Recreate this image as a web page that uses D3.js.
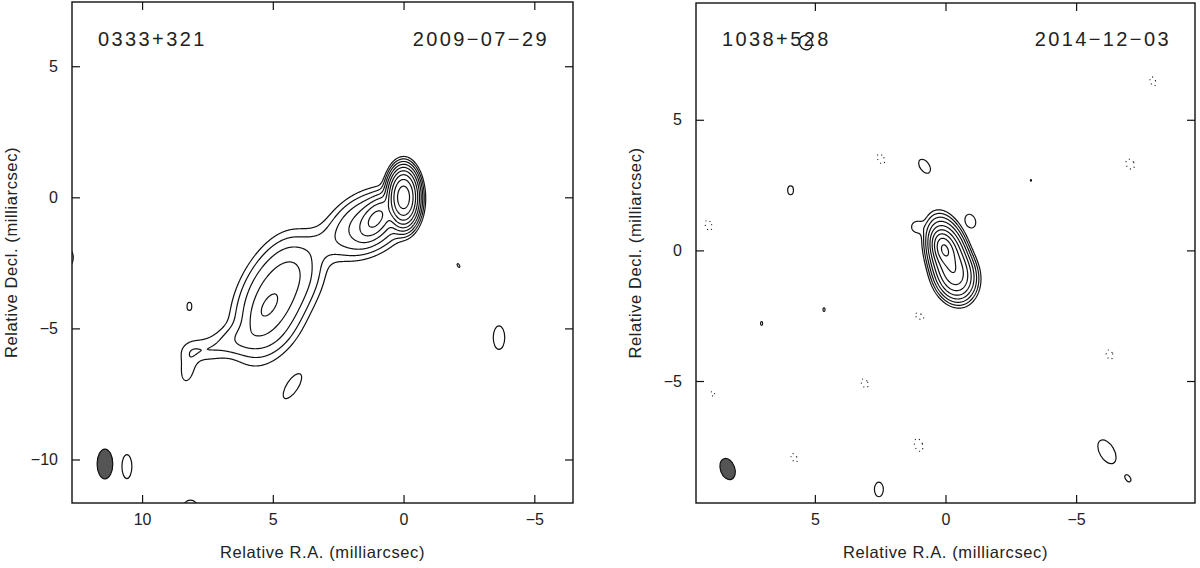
<!DOCTYPE html>
<html>
<head>
<meta charset="utf-8">
<script src="https://cdn.jsdelivr.net/npm/d3@7"></script>
<style>
body { margin: 0; background: #fff; }
text { font-family: "Liberation Sans", Arial, sans-serif; fill: #222; }
</style>
</head>
<body>
<svg id="chart" width="1200" height="568"></svg>
<script>
// contour levels, in units of the lowest contour
const levels = [1, 2, 4, 8, 16, 32, 64, 128, 256];

// 0333+321 (2009-07-29): brightness components [ra, dec, peak, sigmaMaj, sigmaMin, pa]  (mas, deg)
const jetComponents = [
    [0.0, 0.0, 400, 0.45, 0.24, 0],
    [1.05, -0.8, 30, 0.45, 0.25, 145],
    [1.35, -1.0, 12, 0.85, 0.55, 120],
    [2.75, -1.65, 0.6, 0.45, 0.45, 0],
    [3.25, -1.85, 0.8, 0.4, 0.4, 0],
    [4.1, -2.75, 3.8, 0.75, 0.6, 165],
    [5.0, -3.95, 13, 1.15, 0.65, 158],
    [5.25, -4.25, 6, 0.5, 0.25, 147],
    [6.2, -5.4, 2.5, 0.8, 0.35, 100],
    [7.7, -5.85, 1.5, 0.6, 0.3, 90],
    [8.25, -6.5, 1.5, 0.55, 0.25, 170]
];
// isolated lowest-level islands [ra, dec, halfMaj, halfMin, pa]
const jetIslands = [
    [8.19, -4.16, 0.15, 0.09, 0],
    [4.25, -7.2, 0.55, 0.22, 147],
    [-3.65, -5.35, 0.45, 0.22, 0],
    [10.58, -10.27, 0.46, 0.19, 0],
    [8.15, -11.85, 0.3, 0.28, 0],
    [12.85, -2.3, 0.35, 0.22, 0],
    [-2.1, -2.6, 0.08, 0.04, 30]
];
const jetNegIslands = [];
// restoring beam [ra, dec, major, minor, pa]
const jetBeam = [11.42, -10.17, 1.14, 0.6, 0];

// 1038+528 (2014-12-03)
const coreComponents = [
    [0.05, 0.05, 200, 0.3, 0.18, 18],
    [-0.12, -0.25, 120, 0.6, 0.3, 16],
    [-0.38, -0.95, 60, 0.42, 0.33, 15],
    [1.1, 0.9, 1.6, 0.2, 0.2, 0]
];
const coreIslands = [
    [-0.95, 1.12, 0.27, 0.2, 20],
    [5.35, 7.95, 0.28, 0.24, 30],
    [0.8, 3.22, 0.3, 0.18, 35],
    [5.93, 2.3, 0.17, 0.11, 0],
    [-6.18, -7.71, 0.5, 0.28, 30],
    [-6.98, -8.72, 0.15, 0.09, 35],
    [2.55, -9.15, 0.28, 0.17, 0],
    [4.65, -2.27, 0.07, 0.04, 0],
    [7.04, -2.8, 0.07, 0.04, 0],
    [-3.27, 2.68, 0.03, 0.02, 0]
];
const coreNegIslands = [
    [2.47, 3.5, 0.2, 0.12, 30],
    [-7.94, 6.47, 0.18, 0.1, 20],
    [-7.07, 3.3, 0.2, 0.15, 30],
    [9.07, 0.96, 0.2, 0.12, 20],
    [1.0, -2.52, 0.18, 0.1, 60],
    [-6.28, -3.99, 0.18, 0.12, 20],
    [3.09, -5.09, 0.18, 0.12, 30],
    [8.9, -5.5, 0.1, 0.06, 30],
    [1.03, -7.45, 0.25, 0.15, 20],
    [5.79, -7.94, 0.18, 0.1, 30]
];
const coreBeam = [8.34, -8.37, 0.84, 0.55, 20];

const panels = [
    {id: 'jet', name: '0333+321', date: '2009\u221207\u221229', xDomain: [12.68, -6.48], yDomain: [-11.66, 7.45],
     left: 72, right: 573, top: 2, bottom: 503,
     comps: jetComponents, islands: jetIslands, neg: jetNegIslands, beam: jetBeam},
    {id: 'core', name: '1038+528', date: '2014\u221212\u221203', xDomain: [9.55, -9.55], yDomain: [-9.67, 9.47],
     left: 696, right: 1195, top: 3, bottom: 503,
     comps: coreComponents, islands: coreIslands, neg: coreNegIslands, beam: coreBeam}
];

const svg = d3.select('#chart');
const res = 2; // grid samples per pixel

panels.forEach(p => {
    const x = d3.scaleLinear().domain(p.xDomain).range([p.left, p.right]);
    const y = d3.scaleLinear().domain(p.yDomain).range([p.bottom, p.top]);
    const pxPerMas = Math.abs(x(1) - x(0));
    const W = p.right - p.left, H = p.bottom - p.top;

    svg.append('clipPath').attr('id', 'clip-' + p.id)
        .append('rect').attr('x', p.left).attr('y', p.top).attr('width', W).attr('height', H);

    // brightness grid
    const nx = W * res, ny = H * res;
    const values = new Float64Array(nx * ny);
    const raAt = d3.range(nx).map(i => x.invert(p.left + (i + 0.5) / res));
    const decAt = d3.range(ny).map(j => y.invert(p.top + (j + 0.5) / res));
    p.comps.forEach(([ra0, dec0, amp, sa, sb, pa]) => {
        const r = pa * Math.PI / 180, s = Math.sin(r), c = Math.cos(r);
        const reach = sa * 5;
        const i0 = Math.max(0, Math.floor((x(ra0 + reach) - p.left) * res));
        const i1 = Math.min(nx - 1, Math.ceil((x(ra0 - reach) - p.left) * res));
        const j0 = Math.max(0, Math.floor((y(dec0 + reach) - p.top) * res));
        const j1 = Math.min(ny - 1, Math.ceil((y(dec0 - reach) - p.top) * res));
        for (let j = j0; j <= j1; j++) {
            const dd = decAt[j] - dec0;
            for (let i = i0; i <= i1; i++) {
                const dr = raAt[i] - ra0;
                const u = dr * s + dd * c, v = dr * c - dd * s;
                values[j * nx + i] += amp * Math.exp(-0.5 * (u * u / (sa * sa) + v * v / (sb * sb)));
            }
        }
    });

    const contours = d3.contours().size([nx, ny]).thresholds(levels)(values);
    const path = d3.geoPath(d3.geoIdentity().scale(1 / res).translate([p.left, p.top]));

    const plot = svg.append('g').attr('clip-path', 'url(#clip-' + p.id + ')');
    plot.selectAll('path.level')
        .data(contours)
        .join('path')
        .attr('class', 'level')
        .attr('d', path)
        .attr('fill', 'none')
        .attr('stroke', '#111')
        .attr('stroke-width', 1.2);

    const ellipse = (sel) => sel
        .attr('cx', d => x(d[0]))
        .attr('cy', d => y(d[1]))
        .attr('rx', d => d[3] * pxPerMas)
        .attr('ry', d => d[2] * pxPerMas)
        .attr('transform', d => 'rotate(' + (-d[4]) + ',' + x(d[0]) + ',' + y(d[1]) + ')');

    plot.selectAll('ellipse.island')
        .data(p.islands)
        .join('ellipse')
        .attr('class', 'island')
        .call(ellipse)
        .attr('fill', 'none')
        .attr('stroke', '#111')
        .attr('stroke-width', 1.2);

    plot.selectAll('ellipse.neg')
        .data(p.neg)
        .join('ellipse')
        .attr('class', 'neg')
        .call(ellipse)
        .attr('fill', 'none')
        .attr('stroke', '#111')
        .attr('stroke-width', 1.1)
        .attr('stroke-dasharray', '1,3.5');

    // restoring beam: [ra, dec, major, minor, pa] -> half axes
    const b = p.beam;
    plot.append('ellipse')
        .datum([b[0], b[1], b[2] / 2, b[3] / 2, b[4]])
        .call(ellipse)
        .attr('fill', '#555')
        .attr('stroke', '#111')
        .attr('stroke-width', 1.2);

    // axes with inward ticks on all four sides
    const xs = d3.range(Math.ceil(d3.min(p.xDomain)), Math.floor(d3.max(p.xDomain)) + 1);
    const ys = d3.range(Math.ceil(d3.min(p.yDomain)), Math.floor(d3.max(p.yDomain)) + 1);
    const xMajor = xs.filter(v => v % 5 === 0), xMinor = xs.filter(v => v % 5 !== 0);
    const yMajor = ys.filter(v => v % 5 === 0), yMinor = ys.filter(v => v % 5 !== 0);

    const addAxis = (axisFn, scale, translate, major, minor, labels, pad) => {
        const g = svg.append('g').attr('transform', translate);
        g.call(axisFn(scale).tickValues(minor).tickSize(-4.5).tickSizeOuter(0).tickFormat(''));
        g.call(axisFn(scale).tickValues(major).tickSize(-8).tickSizeOuter(0).tickPadding(pad)
            .tickFormat(labels ? d3.format('d') : ''));
        g.selectAll('.domain').remove();
        g.selectAll('line').attr('stroke', '#111').attr('stroke-width', 1.2);
        g.attr('font-size', 16).attr('font-family', null);
        g.selectAll('text').attr('fill', '#222');
        return g;
    };
    addAxis(d3.axisBottom, x, 'translate(0,' + p.bottom + ')', xMajor, xMinor, true, 11);
    addAxis(d3.axisTop, x, 'translate(0,' + p.top + ')', xMajor, xMinor, false, 4);
    addAxis(d3.axisLeft, y, 'translate(' + p.left + ',0)', yMajor, yMinor, true, 14);
    addAxis(d3.axisRight, y, 'translate(' + p.right + ',0)', yMajor, yMinor, false, 4);

    svg.append('rect')
        .attr('x', p.left).attr('y', p.top).attr('width', W).attr('height', H)
        .attr('fill', 'none').attr('stroke', '#111').attr('stroke-width', 1.4);

    // labels
    svg.append('text').attr('x', p.left + 26).attr('y', 46)
        .attr('font-size', 20).attr('letter-spacing', 2.4).text(p.name);
    svg.append('text').attr('x', p.right - 24).attr('y', 46)
        .attr('font-size', 20).attr('letter-spacing', 2.4).attr('text-anchor', 'end').text(p.date);
    svg.append('text').attr('x', (p.left + p.right) / 2).attr('y', 558)
        .attr('font-size', 16.5).attr('text-anchor', 'middle').attr('letter-spacing', 0.6)
        .text('Relative R.A. (milliarcsec)');
    svg.append('text')
        .attr('transform', 'translate(' + (p.left - 55) + ',' + ((p.top + p.bottom) / 2) + ') rotate(-90)')
        .attr('font-size', 16.5).attr('text-anchor', 'middle').attr('letter-spacing', 0.6)
        .text('Relative Decl. (milliarcsec)');
});
</script>
</body>
</html>
